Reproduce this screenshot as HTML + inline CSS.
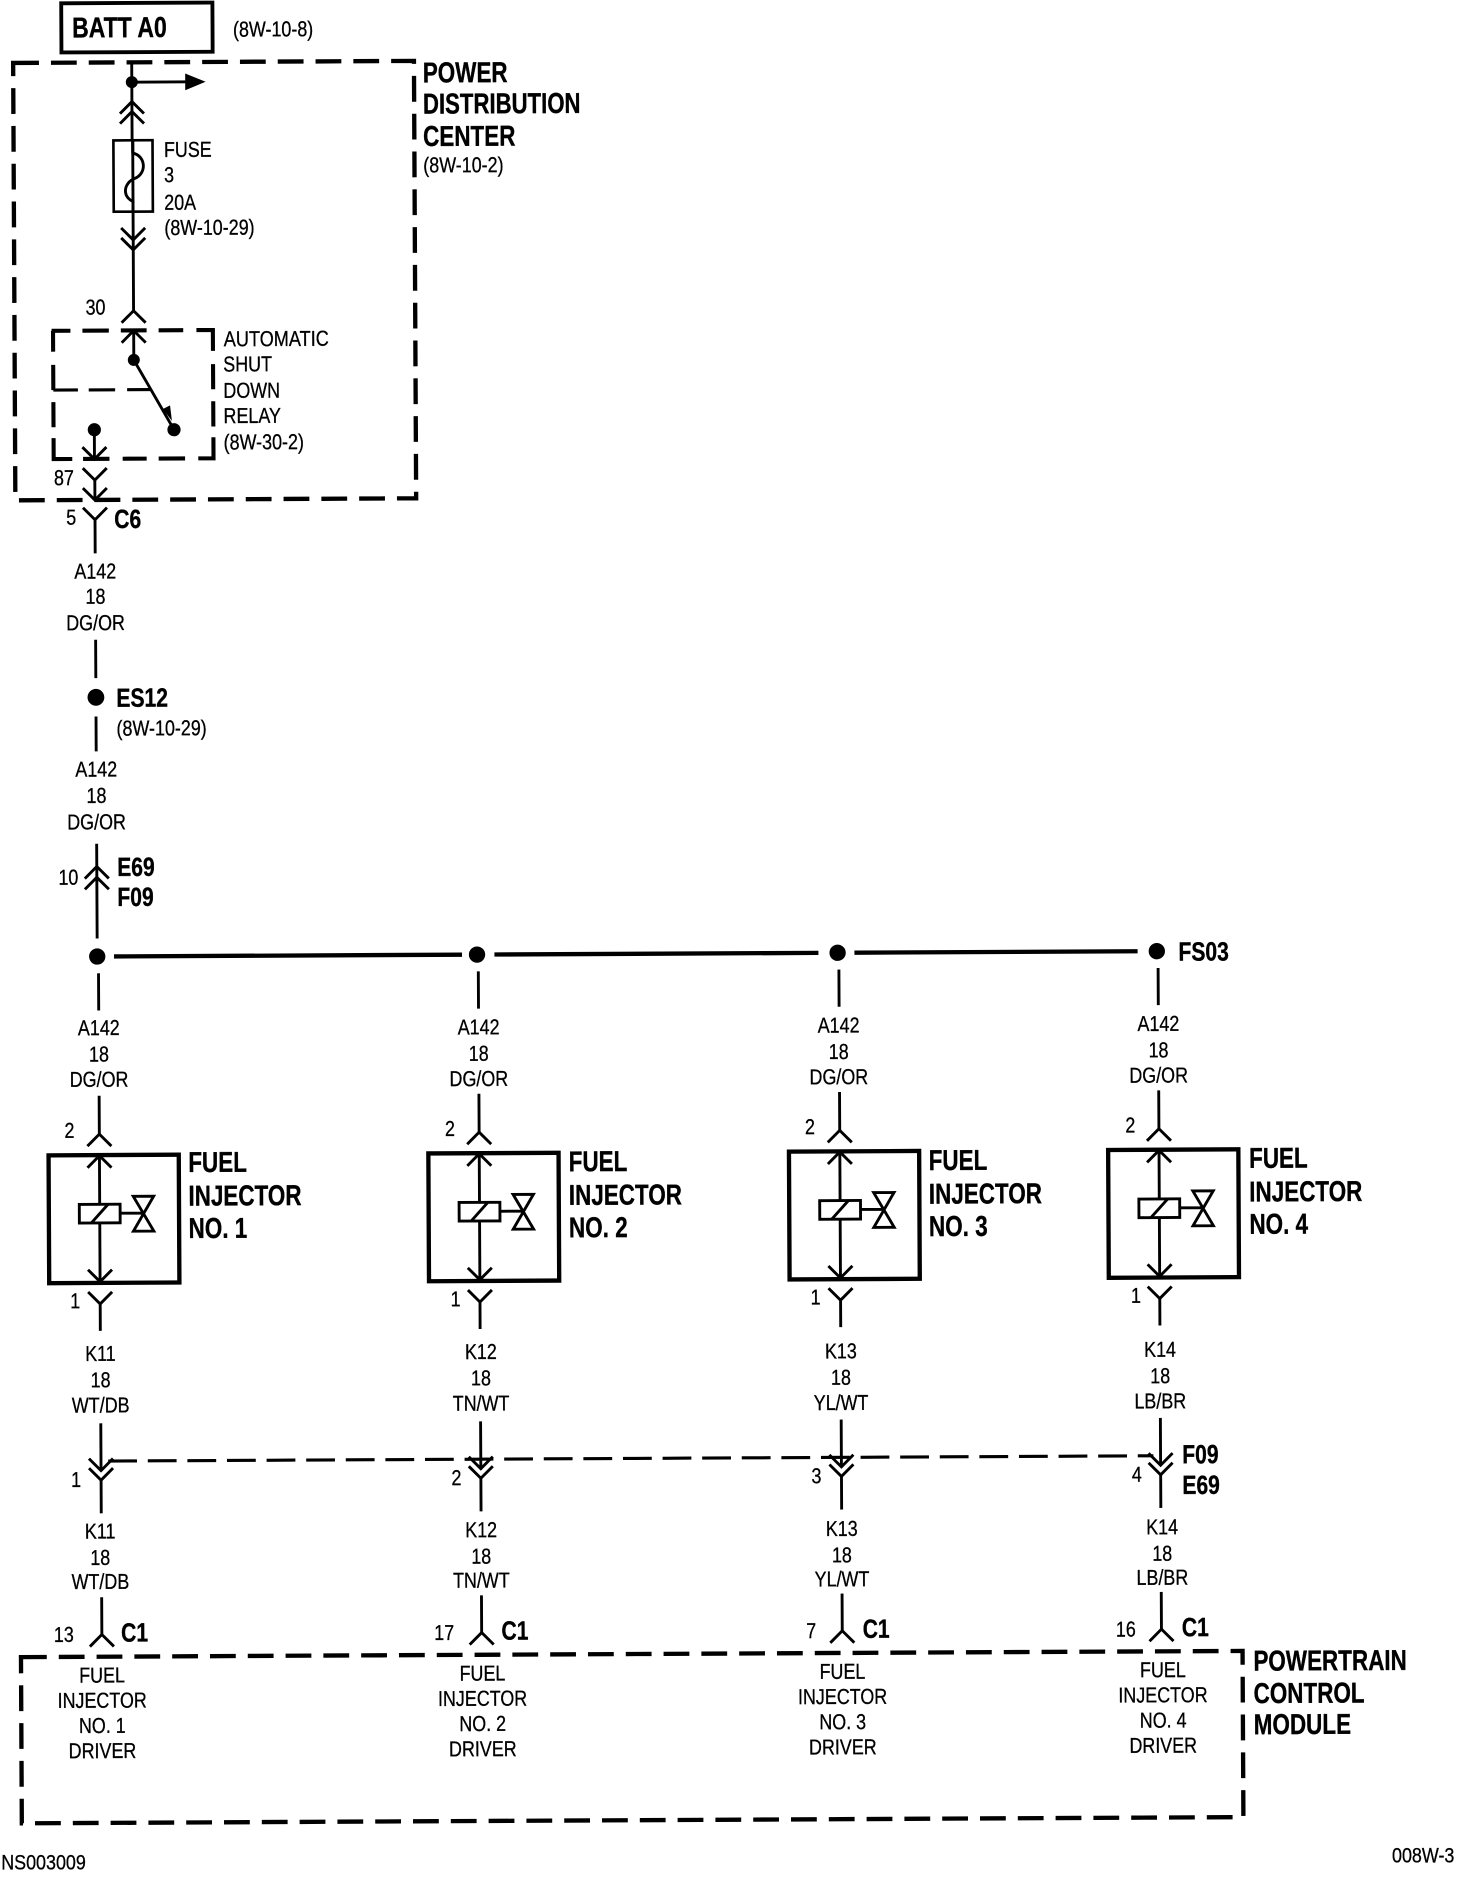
<!DOCTYPE html>
<html><head><meta charset="utf-8"><style>
html,body{margin:0;padding:0;background:#fff;width:1472px;height:1884px;overflow:hidden}
svg{display:block}
text{font-family:"Liberation Sans",sans-serif;fill:#000}
.s{font-size:18px;stroke:#000;stroke-width:.25}
.b{font-size:24px;font-weight:bold;stroke:#000;stroke-width:.3}
.c{font-size:22px;font-weight:bold;stroke:#000;stroke-width:.3}
.m{text-anchor:middle}
.l{stroke:#000;stroke-width:2.4;fill:none}
.d{stroke:#000;stroke-width:3.6;fill:none;stroke-dasharray:21.5 10}
.r{stroke:#000;stroke-width:3.4;fill:none}
</style></head><body>
<svg width="1472" height="1884" viewBox="0 0 1226.67 1570" xmlns="http://www.w3.org/2000/svg">
<defs>
<path id="up" d="M-10 10L0 0L10 10" stroke="#000" stroke-width="2.4" fill="none"/>
<path id="dn" d="M-10 -10L0 0L10 -10" stroke="#000" stroke-width="2.4" fill="none"/>
<g id="col">
<path class="l" d="M78 810V841M78 912V944M78 962V1067M78 1085.5V1108M78 1185V1224.4M78 1232.4V1260M78 1330V1361"/>
<use href="#up" x="78" y="944"/><use href="#up" x="78" y="962"/>
<rect x="35.6" y="961.5" width="108.5" height="106.5" fill="none" stroke="#000" stroke-width="3.6"/>
<use href="#dn" x="78" y="1067"/><use href="#dn" x="78" y="1085.5"/>
<rect x="61" y="1002.5" width="34" height="15.5" fill="#fff" stroke="#000" stroke-width="2.4"/>
<path class="l" d="M71 1018L85 1002.5M95 1010H114M106 996H123L106 1025H123Z"/>
<use href="#dn" x="78" y="1224.4"/><use href="#dn" x="78" y="1232.4"/>
<use href="#up" x="78" y="1361"/>
</g>
</defs>
<g transform="translate(0 1.5) rotate(-0.29)">
<rect x="51" y="1.5" width="126" height="41" fill="none" stroke="#000" stroke-width="3.2"/>
<text class="b" transform="translate(60 30) scale(.8 1)">BATT A0</text>
<text class="s" transform="translate(194 30) scale(.83 1)">(8W-10-8)</text>

<rect class="d" x="10.7" y="51" width="334" height="364.5"/>
<path class="l" d="M109.5 51V116M109.5 67.5H158M110 116V258M110 275V299L143.2 357.3"/>
<circle cx="109.5" cy="67.5" r="5"/>
<path d="M154 60.5L171 67.5L154 74.5Z"/>
<use href="#up" x="109.5" y="83.7"/><use href="#up" x="109.5" y="92"/>
<rect x="93.9" y="116" width="32.6" height="59.4" fill="none" stroke="#000" stroke-width="2.2"/>
<path d="M110 116V126.6C121 129,122 144,111 148C102 152,101 163,110 167V176" fill="none" stroke="#000" stroke-width="2.4"/>
<path d="M110 116V126" stroke="#000" stroke-width="2.4"/>
<use href="#dn" x="110" y="199"/><use href="#dn" x="110" y="207.3"/>
<use href="#up" x="110" y="258"/><use href="#up" x="110" y="274.6"/>
<text class="s" transform="translate(136 130) scale(.83 1)">FUSE</text>
<text class="s" transform="translate(136 151) scale(.83 1)">3</text>
<text class="s" transform="translate(136 174) scale(.83 1)">20A</text>
<text class="s" transform="translate(136 195) scale(.83 1)">(8W-10-29)</text>
<text class="b" transform="translate(352 69) scale(.78 1)">POWER</text>
<text class="b" transform="translate(352 95) scale(.77 1)">DISTRIBUTION</text>
<text class="b" transform="translate(352 122) scale(.78 1)">CENTER</text>
<text class="s" transform="translate(352 144) scale(.83 1)">(8W-10-2)</text>
<text class="s" transform="translate(70 261) scale(.83 1)">30</text>
<g transform="translate(-1.7 -1.2)">
<path class="r" d="M43.3 275.6H59M69 275.6H91M101 275.6H122.5M132.5 275.6H153M164 275.6H177.7V293M177.7 304V325M177.7 335V356M177.7 365V382.5H165M154 382.5H132M122 382.5H102M91 382.5H69M60 382.5H44.5V365M44.5 356V335M44.5 325V304M44.5 293V275.6"/>
<path stroke="#000" stroke-width="2.6" fill="none" d="M44.5 325H65M74 325H96M106 325H126"/>
</g>
<circle cx="110" cy="299" r="5"/><circle cx="143.2" cy="357.3" r="5.5"/>
<path d="M134 340L140 337L141.5 350Z"/>
<circle cx="76.8" cy="357" r="5.5"/>
<path class="l" d="M76.8 357V381.5M77 399V415.6M77 432V460M77 532V564M77 596V625M77 702V781"/>
<use href="#dn" x="76.8" y="381.5"/><use href="#dn" x="77" y="399"/><use href="#dn" x="77" y="415.6"/><use href="#dn" x="77" y="432"/>
<text class="s" transform="translate(185 288) scale(.84 1)">AUTOMATIC</text>
<text class="s" transform="translate(184.5 309) scale(.83 1)">SHUT</text>
<text class="s" transform="translate(184.5 331) scale(.83 1)">DOWN</text>
<text class="s" transform="translate(184.5 352) scale(.83 1)">RELAY</text>
<text class="s" transform="translate(184.5 374) scale(.83 1)">(8W-30-2)</text>
<text class="s" transform="translate(43 403) scale(.83 1)">87</text>
<text class="s" transform="translate(53 436) scale(.83 1)">5</text>
<text class="c" transform="translate(93 439) scale(.8 1)">C6</text>
<text class="s m" transform="translate(77 481) scale(.83 1)">A142</text>
<text class="s m" transform="translate(77 502) scale(.83 1)">18</text>
<text class="s m" transform="translate(77 524) scale(.83 1)">DG/OR</text>
<circle cx="77" cy="580" r="7"/>
<text class="c" transform="translate(94 588) scale(.8 1)">ES12</text>
<text class="s" transform="translate(94 612) scale(.83 1)">(8W-10-29)</text>
<text class="s m" transform="translate(77 646) scale(.83 1)">A142</text>
<text class="s m" transform="translate(77 668) scale(.83 1)">18</text>
<text class="s m" transform="translate(77 690) scale(.83 1)">DG/OR</text>
<text class="s" transform="translate(45 736) scale(.83 1)">10</text>
<use href="#up" x="77" y="721"/><use href="#up" x="77" y="730"/>
<text class="c" transform="translate(94 729) scale(.8 1)">E69</text>
<text class="c" transform="translate(94 754) scale(.8 1)">F09</text>

<circle cx="77" cy="796" r="6.8"/><circle cx="393.5" cy="796" r="6.8"/><circle cx="694" cy="796" r="6.8"/><circle cx="960" cy="796" r="6.8"/>
<path d="M91 796H381M408 796H678M708 796H944" stroke="#000" stroke-width="3.6" fill="none"/>
<text class="c" transform="translate(978 804) scale(.8 1)">FS03</text>

<use href="#col"/>
<use href="#col" x="316.5"/>
<use href="#col" x="617"/>
<use href="#col" x="883"/>

<path d="M84 1216.5H955" stroke="#000" stroke-width="2.6" stroke-dasharray="24 9" fill="none"/>
<text class="c" transform="translate(979 1223) scale(.8 1)">F09</text>
<text class="c" transform="translate(979 1248.5) scale(.8 1)">E69</text>

<text class="s m" transform="translate(78 861.5) scale(.83 1)">A142</text>
<text class="s m" transform="translate(78 883.5) scale(.83 1)">18</text>
<text class="s m" transform="translate(78 904.5) scale(.83 1)">DG/OR</text>
<text class="s m" transform="translate(394.5 862.5) scale(.83 1)">A142</text>
<text class="s m" transform="translate(394.5 884.5) scale(.83 1)">18</text>
<text class="s m" transform="translate(394.5 905.5) scale(.83 1)">DG/OR</text>
<text class="s m" transform="translate(694.5 862.5) scale(.83 1)">A142</text>
<text class="s m" transform="translate(694.5 884.5) scale(.83 1)">18</text>
<text class="s m" transform="translate(694.5 905.5) scale(.83 1)">DG/OR</text>
<text class="s m" transform="translate(961 862.5) scale(.83 1)">A142</text>
<text class="s m" transform="translate(961 884.5) scale(.83 1)">18</text>
<text class="s m" transform="translate(961 905.5) scale(.83 1)">DG/OR</text>

<text class="s" transform="translate(49 947) scale(.83 1)">2</text>
<text class="s" transform="translate(366 947) scale(.83 1)">2</text>
<text class="s" transform="translate(666 947) scale(.83 1)">2</text>
<text class="s" transform="translate(933 947) scale(.83 1)">2</text>
<text class="s" transform="translate(53 1089) scale(.83 1)">1</text>
<text class="s" transform="translate(370 1089) scale(.83 1)">1</text>
<text class="s" transform="translate(670 1089) scale(.83 1)">1</text>
<text class="s" transform="translate(937 1089) scale(.83 1)">1</text>

<text class="b" transform="translate(152 976) scale(.78 1)">FUEL</text>
<text class="b" transform="translate(152 1004) scale(.78 1)">INJECTOR</text>
<text class="b" transform="translate(152 1031) scale(.78 1)">NO. 1</text>
<text class="b" transform="translate(469 977) scale(.78 1)">FUEL</text>
<text class="b" transform="translate(469 1005) scale(.78 1)">INJECTOR</text>
<text class="b" transform="translate(469 1032) scale(.78 1)">NO. 2</text>
<text class="b" transform="translate(769 977.5) scale(.78 1)">FUEL</text>
<text class="b" transform="translate(769 1005.5) scale(.78 1)">INJECTOR</text>
<text class="b" transform="translate(769 1032.5) scale(.78 1)">NO. 3</text>
<text class="b" transform="translate(1036 977) scale(.78 1)">FUEL</text>
<text class="b" transform="translate(1036 1005) scale(.78 1)">INJECTOR</text>
<text class="b" transform="translate(1036 1032) scale(.78 1)">NO. 4</text>

<text class="s m" transform="translate(78 1133) scale(.83 1)">K11</text>
<text class="s m" transform="translate(78 1155) scale(.83 1)">18</text>
<text class="s m" transform="translate(78 1176) scale(.83 1)">WT/DB</text>
<text class="s m" transform="translate(395 1133) scale(.83 1)">K12</text>
<text class="s m" transform="translate(395 1155) scale(.83 1)">18</text>
<text class="s m" transform="translate(395 1176) scale(.83 1)">TN/WT</text>
<text class="s m" transform="translate(695 1134) scale(.83 1)">K13</text>
<text class="s m" transform="translate(695 1156) scale(.83 1)">18</text>
<text class="s m" transform="translate(695 1177) scale(.83 1)">YL/WT</text>
<text class="s m" transform="translate(961 1134) scale(.83 1)">K14</text>
<text class="s m" transform="translate(961 1156) scale(.83 1)">18</text>
<text class="s m" transform="translate(961 1177) scale(.83 1)">LB/BR</text>

<text class="s" transform="translate(53 1238) scale(.83 1)">1</text>
<text class="s" transform="translate(370 1238) scale(.83 1)">2</text>
<text class="s" transform="translate(670 1238) scale(.83 1)">3</text>
<text class="s" transform="translate(937 1238) scale(.83 1)">4</text>

<text class="s m" transform="translate(77 1281) scale(.83 1)">K11</text>
<text class="s m" transform="translate(77 1303) scale(.83 1)">18</text>
<text class="s m" transform="translate(77 1323) scale(.83 1)">WT/DB</text>
<text class="s m" transform="translate(394.5 1281.5) scale(.83 1)">K12</text>
<text class="s m" transform="translate(394.5 1303.5) scale(.83 1)">18</text>
<text class="s m" transform="translate(394.5 1323.5) scale(.83 1)">TN/WT</text>
<text class="s m" transform="translate(695 1282) scale(.83 1)">K13</text>
<text class="s m" transform="translate(695 1304) scale(.83 1)">18</text>
<text class="s m" transform="translate(695 1324) scale(.83 1)">YL/WT</text>
<text class="s m" transform="translate(962 1282) scale(.83 1)">K14</text>
<text class="s m" transform="translate(962 1304) scale(.83 1)">18</text>
<text class="s m" transform="translate(962 1324) scale(.83 1)">LB/BR</text>

<text class="s" transform="translate(38 1367) scale(.83 1)">13</text>
<text class="s" transform="translate(355 1367) scale(.83 1)">17</text>
<text class="s" transform="translate(665 1367) scale(.83 1)">7</text>
<text class="s" transform="translate(923 1367) scale(.83 1)">16</text>
<text class="c" transform="translate(94 1367) scale(.8 1)">C1</text>
<text class="c" transform="translate(411 1367) scale(.8 1)">C1</text>
<text class="c" transform="translate(712 1367) scale(.8 1)">C1</text>
<text class="c" transform="translate(978 1367) scale(.8 1)">C1</text>

<rect class="d" x="10.5" y="1379.5" width="1018" height="138.5"/>
<text class="s m" transform="translate(78 1401) scale(.83 1)">FUEL</text>
<text class="s m" transform="translate(78 1422) scale(.83 1)">INJECTOR</text>
<text class="s m" transform="translate(78 1443) scale(.83 1)">NO. 1</text>
<text class="s m" transform="translate(78 1464) scale(.83 1)">DRIVER</text>
<text class="s m" transform="translate(395 1401) scale(.83 1)">FUEL</text>
<text class="s m" transform="translate(395 1422) scale(.83 1)">INJECTOR</text>
<text class="s m" transform="translate(395 1443) scale(.83 1)">NO. 2</text>
<text class="s m" transform="translate(395 1464) scale(.83 1)">DRIVER</text>
<text class="s m" transform="translate(695 1401) scale(.83 1)">FUEL</text>
<text class="s m" transform="translate(695 1422) scale(.83 1)">INJECTOR</text>
<text class="s m" transform="translate(695 1443) scale(.83 1)">NO. 3</text>
<text class="s m" transform="translate(695 1464) scale(.83 1)">DRIVER</text>
<text class="s m" transform="translate(962 1401) scale(.83 1)">FUEL</text>
<text class="s m" transform="translate(962 1422) scale(.83 1)">INJECTOR</text>
<text class="s m" transform="translate(962 1443) scale(.83 1)">NO. 4</text>
<text class="s m" transform="translate(962 1464) scale(.83 1)">DRIVER</text>
<text class="b" transform="translate(1037.5 1396) scale(.78 1)">POWERTRAIN</text>
<text class="b" transform="translate(1037.5 1423) scale(.78 1)">CONTROL</text>
<text class="b" transform="translate(1037.5 1449) scale(.78 1)">MODULE</text>
</g>
<text class="s" transform="translate(1 1558) scale(.83 1)">NS003009</text>
<text class="s" transform="translate(1160 1552) scale(.83 1)">008W-3</text>
</svg>
</body></html>
